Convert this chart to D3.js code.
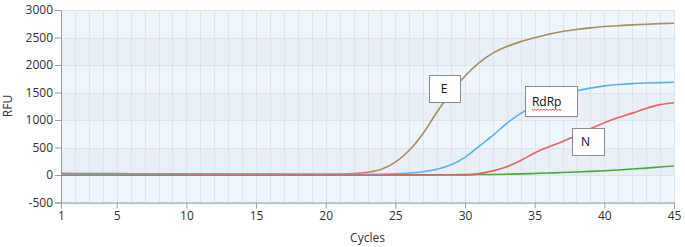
<!DOCTYPE html>
<html><head><meta charset="utf-8">
<script src="https://cdn.jsdelivr.net/npm/d3@7"></script>
<style>
html,body{margin:0;padding:0;background:#fff;}
svg{display:block;font-family:"Open Sans",sans-serif;}
</style></head>
<body><svg id="c" width="685" height="247"></svg>
<script>
const cycles = [1,2,3,4,5,6,7,8,9,10,11,12,13,14,15,16,17,18,19,20,21,22,23,24,25,26,27,28,29,30,31,32,33,34,35,36,37,38,39,40,41,42,43,44,45];
const xTickLabels = [1,5,10,15,20,25,30,35,40,45];
const yTickLabels = [-500,0,500,1000,1500,2000,2500,3000];
const seriesE    = [20,20,18,18,17,16,15,15,14,14,13,13,12,12,12,11,11,11,12,13,15,25,50,105,235,450,760,1150,1500,1800,2040,2215,2335,2425,2495,2560,2610,2645,2675,2700,2715,2730,2742,2752,2760];
const seriesRdRp = [15,15,15,14,14,14,13,13,13,13,12,12,12,12,12,12,12,12,12,13,13,13,14,15,22,35,60,105,185,320,520,720,940,1120,1265,1375,1460,1530,1580,1620,1645,1662,1673,1680,1685];
const seriesN    = [-5,-5,-5,-5,-4,-4,-4,-4,-3,-3,-3,-3,-3,-3,-2,-2,-2,-2,-2,-2,-2,-2,-2,-2,-2,-2,-2,-1,-1,0,25,75,150,265,400,510,610,720,840,950,1045,1125,1210,1280,1315];
const seriesG    = [30,28,27,26,25,24,23,22,21,20,18,17,15,14,12,11,10,9,8,7,6,5,5,4,4,4,4,4,5,6,8,10,14,20,28,36,45,55,66,78,92,108,125,145,165];
const labels = [
  {text:"E", at:[28.5,1570], w:31, h:27, dx:0},
  {text:"RdRp", at:[36.15,1345], w:52, h:30, dx:-4, squiggle:true},
  {text:"N", at:[38.8,610], w:32, h:27, dx:-2}
];

const svg = d3.select("#c");
const L=61, R=674, T=10, B=202.5;
const x = d3.scaleLinear().domain([1,45]).range([L,R]);
const y = d3.scaleLinear().domain([-500,3000]).range([B,T]);

// bands
const bands = d3.range(yTickLabels.length-1).map(i=>[yTickLabels[i],yTickLabels[i+1]]);
svg.append("g").selectAll("rect").data(bands).join("rect")
  .attr("x",L).attr("width",R-L)
  .attr("y",d=>y(d[1])).attr("height",d=>y(d[0])-y(d[1]))
  .attr("fill",(d,i)=> (i%2===1)?"#e9eff6":"#eff5fd");
// gridlines
const grid = svg.append("g").attr("stroke","#e0e3e7").attr("stroke-width",1);
grid.selectAll("line.v").data(cycles).join("line").attr("class","v")
  .attr("x1",d=>Math.round(x(d))+0.5).attr("x2",d=>Math.round(x(d))+0.5).attr("y1",T).attr("y2",B);
grid.selectAll("line.h").data(yTickLabels).join("line").attr("class","h")
  .attr("y1",d=>Math.round(y(d))+0.5).attr("y2",d=>Math.round(y(d))+0.5).attr("x1",L).attr("x2",R);

// axes
const fmt = d=>String(d);
const ax = svg.append("g").attr("transform",`translate(${L},0)`)
  .call(d3.axisLeft(y).tickValues(yTickLabels).tickFormat(fmt).tickSize(6).tickPadding(2));
const bx = svg.append("g").attr("transform",`translate(0,${B})`)
  .call(d3.axisBottom(x).tickValues(xTickLabels).tickFormat(fmt).tickSize(6).tickPadding(3));
[ax,bx].forEach(g=>{
  g.selectAll("path,line").attr("stroke","#9a9a9a");
  g.selectAll("text").attr("fill","#333").style("font-size","12px").style("font-family","Open Sans, sans-serif");
});

svg.append("text").attr("x",L+ (R-L)/2).attr("y",242).attr("text-anchor","middle")
  .attr("fill","#333").style("font-size","12px").text("Cycles");
svg.append("text").attr("transform","translate(12,106) rotate(-90)").attr("text-anchor","middle")
  .attr("fill","#333").style("font-size","12px").text("RFU");

// lines
const line = d3.line().x((d,i)=>x(cycles[i])).y(d=>y(d)).curve(d3.curveMonotoneX);
const series = [
  {v:seriesG, c:"#4aa83a"},
  {v:seriesE, c:"#a48e5e"},
  {v:seriesRdRp, c:"#5db0ec"},
  {v:seriesN, c:"#e8625e"}
];
svg.append("g").selectAll("path").data(series).join("path")
  .attr("d",d=>line(d.v)).attr("fill","none").attr("stroke",d=>d.c).attr("stroke-width",1.6);

// label boxes
labels.forEach(lb=>{
  const cx=x(lb.at[0]), cy=y(lb.at[1]);
  const g=svg.append("g");
  g.append("rect").attr("x",Math.round(cx-lb.w/2)+0.5).attr("y",Math.round(cy-lb.h/2)+0.5)
    .attr("width",lb.w).attr("height",lb.h).attr("fill","#fff").attr("stroke","#8a8a8a");
  g.append("text").attr("x",cx+lb.dx).attr("y",cy+4.5).attr("text-anchor","middle")
    .attr("fill","#111").style("font-size","12px").text(lb.text);
  if(lb.squiggle){
    const x0=cx+lb.dx-15, x1=cx+lb.dx+15, yy=cy+8;
    let p=`M${x0},${yy}`;
    for(let xx=x0, k=0; xx<x1; xx+=1.5, k++) p+=` L${xx+1.5},${yy+(k%2?0:1.5)}`;
    g.append("path").attr("d",p).attr("fill","none").attr("stroke","#e02020").attr("stroke-width",0.8);
  }
});
</script></body></html>
